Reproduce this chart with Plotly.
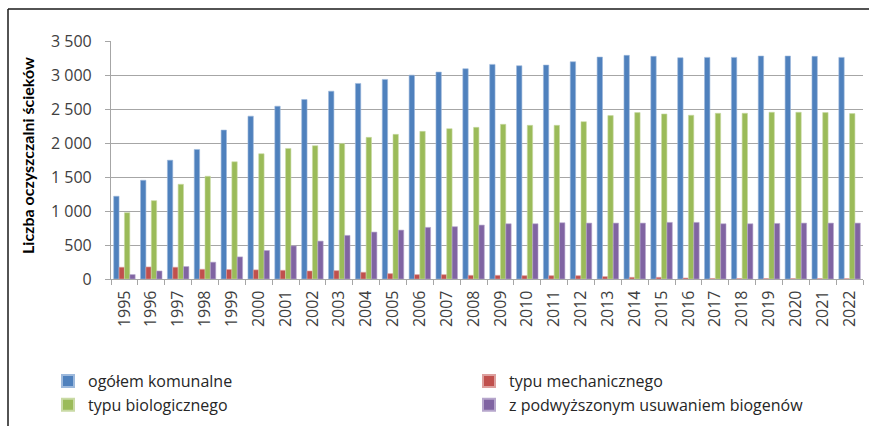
import plotly.graph_objects as go

# Liczba oczyszczalni ścieków komunalnych w latach 1995–2022
years = [str(y) for y in range(1995, 2023)]

ogolem_komunalne = [1217, 1452, 1747, 1905, 2190, 2395, 2541, 2640, 2762, 2876,
                    2935, 2998, 3043, 3092, 3156, 3136, 3146, 3195, 3264, 3289,
                    3274, 3254, 3259, 3259, 3279, 3279, 3274, 3259]
typu_mechanicznego = [173, 177, 173, 143, 139, 134, 128, 118, 123, 99,
                      79, 64, 64, 54, 54, 49, 49, 49, 35, 25,
                      25, 15, 8, 7, 7, 6, 6, 5]
typu_biologicznego = [975, 1152, 1393, 1511, 1724, 1842, 1920, 1960, 1994, 2083,
                      2127, 2171, 2211, 2230, 2275, 2260, 2260, 2314, 2403, 2447,
                      2427, 2408, 2437, 2437, 2452, 2452, 2447, 2432]
podwyzszone_biogeny = [65, 118, 183, 247, 325, 419, 487, 557, 641, 690,
                       719, 759, 769, 793, 812, 812, 827, 822, 822, 822,
                       832, 832, 812, 812, 817, 822, 822, 822]

# (name, values, fill, edge, legend column)
series = [
    ("ogółem komunalne", ogolem_komunalne, "#4F81BD", "#9DB9DC", "legend"),
    ("typu mechanicznego", typu_mechanicznego, "#C0504D", "#DDA09E", "legend2"),
    ("typu biologicznego", typu_biologicznego, "#9BBB59", "#C9DAA5", "legend"),
    ("z podwyższonym usuwaniem biogenów", podwyzszone_biogeny, "#8064A2", "#B6A6CC", "legend2"),
]

fig = go.Figure()
for name, values, color, edge, leg in series:
    fig.add_trace(go.Bar(
        x=years, y=values, name=name, legend=leg,
        marker=dict(color=color, line=dict(color=edge, width=0.6)),
    ))

W, H = 869, 426
L, R, T, B = 111, 6, 41, 147
pw, ph = W - L - R, H - T - B

def px_x(x):
    return (x - L) / pw

def px_y(y):
    return (H - B - y) / ph

grid = "#A6A6A6"
tick_font = dict(family="Open Sans", size=16, color="#404040")
legend_font = dict(family="Open Sans", size=16, color="#262626")

def legend_at(left_px):
    return dict(
        orientation="v",
        xref="container", yref="container",
        x=left_px / W, y=1 - 364 / H, xanchor="left", yanchor="top",
        font=legend_font, tracegroupgap=0, itemsizing="constant",
        bgcolor="rgba(0,0,0,0)",
    )

fig.update_layout(
    width=W, height=H,
    margin=dict(l=L, r=R, t=T, b=B, autoexpand=False),
    paper_bgcolor="white", plot_bgcolor="white",
    barmode="group", bargap=0.2, bargroupgap=0,
    separators=", ",
    showlegend=True,
    legend=legend_at(48),
    legend2=legend_at(469),
    font=dict(family="Open Sans"),
    shapes=[
        # frame of the chart area (top and left edges)
        dict(type="line", xref="paper", yref="paper",
             x0=px_x(8), x1=px_x(880), y0=px_y(9), y1=px_y(9),
             line=dict(color="#1A1A1A", width=1.5)),
        dict(type="line", xref="paper", yref="paper",
             x0=px_x(8), x1=px_x(8), y0=px_y(9), y1=px_y(440),
             line=dict(color="#1A1A1A", width=1.5)),
    ],
    annotations=[
        # y-axis title
        dict(text="<b>Liczba oczyszczalni ścieków</b>",
             xref="paper", yref="paper", x=px_x(27), y=px_y(156),
             xanchor="center", yanchor="middle", textangle=-90,
             showarrow=False,
             font=dict(family="Lato", size=16, color="#000000")),
    ],
)

fig.update_xaxes(
    type="category",
    tickangle=-90,
    tickfont=tick_font,
    showline=True, linecolor=grid, linewidth=1.2,
    ticks="outside", tickson="boundaries", ticklen=5, tickcolor=grid,
    ticklabelstandoff=4,
    showgrid=False,
    automargin=False,
)

fig.update_yaxes(
    range=[0, 3500],
    tickvals=[0, 500, 1000, 1500, 2000, 2500, 3000, 3500],
    tickformat=",d",
    tickfont=tick_font,
    showgrid=True, gridcolor=grid, gridwidth=1.2,
    showline=True, linecolor=grid, linewidth=1.2,
    ticks="outside", ticklen=5, tickcolor=grid,
    ticklabelstandoff=10,
    zeroline=False,
    automargin=False,
)

fig.write_html("out.html")
